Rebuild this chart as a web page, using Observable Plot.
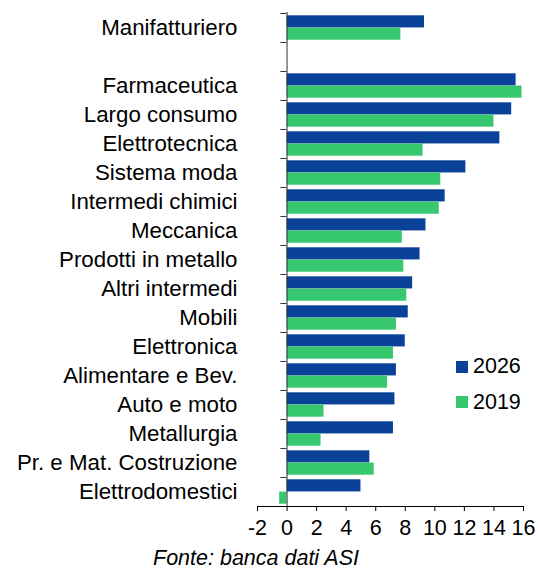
<!DOCTYPE html>
<html><head><meta charset="utf-8">
<script src="https://cdn.jsdelivr.net/npm/d3@7"></script>
<script src="https://cdn.jsdelivr.net/npm/@observablehq/plot@0.6"></script>
<style>
body{margin:0;background:#fff;font-family:"Liberation Sans",Arial,sans-serif;color:#000;}
#wrap{position:relative;width:538px;height:571px;}
#chart svg{display:block;}
#legend{position:absolute;left:456px;top:349px;font-size:21.5px;}
.item{display:flex;align-items:center;height:35.5px;}
.sw{width:12px;height:12px;margin-right:5px;}
#caption{font-style:italic;font-size:21.5px;margin-left:153px;line-height:24px;}
</style></head><body>
<div id="wrap"><div id="chart"></div><div id="legend"></div><div id="caption"></div></div>
<script>
const categories = ["Manifatturiero"," ","Farmaceutica","Largo consumo","Elettrotecnica","Sistema moda","Intermedi chimici","Meccanica","Prodotti in metallo","Altri intermedi","Mobili","Elettronica","Alimentare e Bev.","Auto e moto","Metallurgia","Pr. e Mat. Costruzione","Elettrodomestici"];
const values2026 = [9.3,null,15.5,15.2,14.4,12.1,10.7,9.4,9.0,8.5,8.2,8.0,7.4,7.3,7.2,5.6,5.0];
const values2019 = [7.7,null,15.9,14.0,9.2,10.4,10.3,7.8,7.9,8.1,7.4,7.2,6.8,2.5,2.3,5.9,-0.5];
const seriesNames = ["2026","2019"];
const seriesColors = ["#0b4299","#37c86f"];
const xTicks = [-2,0,2,4,6,8,10,12,14,16];
const captionText = "Fonte: banca dati ASI";

const rows = categories.map((c,i)=>({category:c, v2026: values2026[i], v2019: values2019[i]})).filter(d=>d.v2026!=null);

const W=538, H=546, mt=12, mb=40, ml=257, mr=15;
const band = (H-mt-mb)/categories.length;
const barH = 12.2, edge = 2.3;

const chart = Plot.plot({
  width: W, height: H, marginTop: mt, marginBottom: mb, marginLeft: ml, marginRight: mr,
  style: {fontFamily: '"Liberation Sans", Arial, sans-serif', fontSize: "21.5px", color: "#000", background: "#fff", overflow: "visible"},
  x: {domain: [-2,16], ticks: xTicks, tickFormat: d => String(d), tickSize: 5, tickPadding: 8, line: true, label: null},
  y: {domain: categories, padding: 0, tickSize: 0, tickPadding: 20, label: null},
  marks: [
    Plot.barX(rows, {y: "category", x: "v2026", fill: seriesColors[0], insetTop: edge, insetBottom: band-edge-barH}),
    Plot.barX(rows, {y: "category", x: "v2019", fill: seriesColors[1], insetTop: band-edge-barH, insetBottom: edge}),
    Plot.ruleX([0], {stroke: "#333"}),
    Plot.ruleY(categories, {y: d => d, x1: -0.42, x2: 0, dy: -band/2, stroke: "#333"})
  ]
});
chart.querySelectorAll('[aria-label="y-axis tick label"] text, [aria-label="y-axis"] text').forEach(t => t.style.fontSize = "22.3px");
document.getElementById("chart").appendChild(chart);

const legend = document.getElementById("legend");
seriesNames.forEach((n,i) => {
  const it = document.createElement("div"); it.className = "item";
  const sw = document.createElement("div"); sw.className = "sw"; sw.style.background = seriesColors[i];
  const tx = document.createElement("span"); tx.textContent = n;
  it.appendChild(sw); it.appendChild(tx); legend.appendChild(it);
});
document.getElementById("caption").textContent = captionText;
</script>
</body></html>
